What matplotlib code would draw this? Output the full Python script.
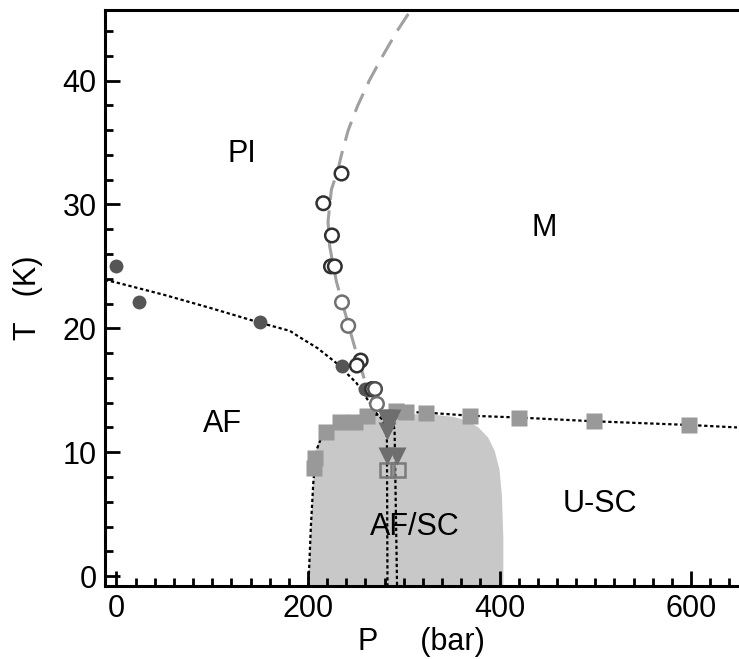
#!/usr/bin/python3

import numpy as np
import matplotlib
matplotlib.use('Agg')
import matplotlib.pyplot as plt
from matplotlib.ticker import MultipleLocator

plt.rcParams['font.family'] = ['Liberation Sans', 'DejaVu Sans']

# AF transition (filled circles)
af_P = [0, 23, 150, 236, 259, 263]
af_T = [25.0, 22.1, 20.5, 17.0, 15.1, 15.0]

# PI / M boundary (open circles)
pi_P = [235, 216, 225, 224, 228, 235.5, 242, 255, 251, 267, 270, 272]
pi_T = [32.5, 30.1, 27.5, 25.0, 25.0, 22.1, 20.2, 17.4, 17.0, 15.1, 15.1, 13.9]
pi_edge = ['#303030', '#303030', '#303030', '#303030', '#303030', '#707070',
           '#707070', '#303030', '#303030', '#303030', '#505050', '#707070']

# SC transition (grey squares)
sc_P = [206, 207.5, 219, 233, 248.7, 262, 292, 302.7, 322.9, 368.8, 420.3, 498.2, 597.7]
sc_T = [8.7, 9.5, 11.6, 12.4, 12.4, 12.9, 13.3, 13.25, 13.2, 12.95, 12.8, 12.5, 12.2]

# triangles and open squares in the AF/SC region
tri_P = [281, 288, 285, 282, 283, 293]
tri_T = [12.8, 12.8, 12.3, 11.7, 9.7, 9.7]
osq_P = [283, 294]
osq_T = [8.6, 8.6]

# guide lines
dash_P = [271.4, 259.2, 248.7, 241.8, 234.9, 229.6, 226.1, 222.7, 220.9, 224.4, 231.3,
          234.9, 242, 252, 264, 278, 293, 310]
dash_T = [13.7, 15.8, 18.5, 20.4, 22.3, 23.8, 25.2, 26.6, 28.6, 31.2, 32.8,
          34.0, 36, 38, 40, 42, 44, 46]

afline_P = [-12, 0, 50, 100, 150, 181, 191, 210, 229.6, 250.5, 262.6, 271.4, 278, 281, 282.4, 283]
afline_T = [23.9, 23.7, 22.7, 21.6, 20.45, 19.8, 19.3, 18.4, 17.2, 15.6, 14.2, 13.15, 12.6, 12.0, 11.0, -0.8]

afline2_P = [288, 290.4, 293]
afline2_T = [12.6, 11.8, -0.8]

scline_P = [200.5, 201, 203, 205.5, 207, 209, 213, 219, 233, 249, 262, 292, 303, 323,
            369, 420, 498, 598, 648]
scline_T = [-0.8, 0.3, 4, 7.5, 8.8, 10.2, 11.0, 11.6, 12.4, 12.4, 12.9, 13.3, 13.25, 13.2,
            12.95, 12.8, 12.5, 12.2, 12.0]

# AF/SC shaded region outline
reg_P = [200, 201, 204, 206, 208, 212, 220, 235, 260, 300, 335, 352, 366, 378, 388, 395,
         400, 402.5, 404, 404]
reg_T = [-0.8, 0, 5, 8, 10, 11.2, 12.0, 12.6, 13.0, 13.1, 13.0, 12.85, 12.55, 12.0, 11.2,
         10.1, 8.6, 6.5, 3, -0.8]


def plot_diagram():
    fig = plt.figure(figsize=(7.39, 6.59), dpi=100)
    ax = fig.add_axes([105/739, 1 - 586/659, 632/739, 576/659])

    ax.fill(reg_P, reg_T, color='#c8c8c8', lw=0, zorder=1)

    ax.plot(dash_P, dash_T, color='#a0a0a0', lw=2.2, dashes=(6.5, 3.5), zorder=2)
    ax.plot(afline_P, afline_T, color='black', lw=1.6, dashes=(1.5, 1.2), zorder=2)
    ax.plot(afline2_P, afline2_T, color='black', lw=1.6, dashes=(1.5, 1.2), zorder=2)
    ax.plot(scline_P, scline_T, color='black', lw=1.6, dashes=(1.5, 1.2), zorder=2)

    ax.plot(sc_P, sc_T, 's', ms=11, color='#999999', mec='none', zorder=3)
    ax.plot(af_P, af_T, 'o', ms=10, color='#555555', mec='none', zorder=4)
    ax.scatter(pi_P, pi_T, s=95, facecolors='white', edgecolors=pi_edge,
               linewidths=1.8, zorder=5)
    ax.plot(osq_P, osq_T, 's', ms=10.5, mfc='none', mec='#7a7a7a', mew=1.8, zorder=4)
    ax.plot(tri_P, tri_T, 'v', ms=13, color='#6e6e6e', mec='none', zorder=4)

    fs = 22
    ax.text(131, 34.1, 'PI', fontsize=fs, ha='center', va='center')
    ax.text(447, 28.1, 'M', fontsize=fs, ha='center', va='center')
    ax.text(111, 12.3, 'AF', fontsize=fs, ha='center', va='center')
    ax.text(312, 4.0, 'AF/SC', fontsize=fs, ha='center', va='center')
    ax.text(505, 5.8, 'U-SC', fontsize=fs, ha='center', va='center')

    ax.set_xlim(-12, 648)
    ax.set_ylim(-0.8, 45.7)
    ax.xaxis.set_major_locator(MultipleLocator(200))
    ax.xaxis.set_minor_locator(MultipleLocator(20))
    ax.yaxis.set_major_locator(MultipleLocator(10))
    ax.yaxis.set_minor_locator(MultipleLocator(2))
    ax.tick_params(which='both', direction='in', width=2, labelsize=fs, top=False, right=False)
    ax.tick_params(which='major', length=11, pad=6)
    ax.tick_params(which='minor', length=6)
    for side in ['left', 'bottom', 'top']:
        ax.spines[side].set_linewidth(2.2)
    ax.spines['right'].set_visible(False)

    ax.set_xlabel('P     (bar)', fontsize=fs, labelpad=2)
    ax.set_ylabel('T   (K)', fontsize=fs, labelpad=14)

    fig.savefig('out.png', dpi=100)


if __name__ == '__main__':
    plot_diagram()
